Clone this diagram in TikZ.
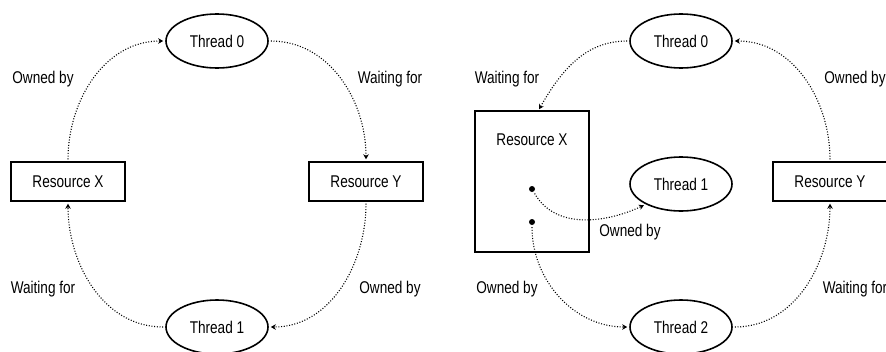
\documentclass[tikz,border=0pt]{standalone}
\usepackage{fontspec}
\setmainfont{Liberation Sans}[FakeStretch=0.8]
\usetikzlibrary{arrows.meta,shapes.geometric}
\begin{document}
\begin{tikzpicture}[x=1pt,y=-1pt,
  every node/.style={font=\fontsize{17}{20}\selectfont},
  thr/.style={draw,ellipse,line width=1.6pt,minimum width=102pt,minimum height=54pt,inner sep=0pt},
  res/.style={draw,rectangle,line width=1.4pt,minimum width=114pt,minimum height=39pt,inner sep=0pt},
  lab/.style={inner sep=0pt},
  dot/.style={circle,fill,inner sep=0pt,minimum size=6pt},
  conn/.style={line width=1.1pt,dash pattern=on 1pt off 1.7pt,shorten >=2pt,shorten <=2pt,
    -{Stealth[length=5pt,width=5.5pt,inset=1.5pt]}}]
\useasboundingbox (0,0) rectangle (886,351);
% left diagram
\node[thr] (t0a) at (217,41) {Thread 0};
\node[thr] (t1a) at (217,327) {Thread 1};
\node[res] (rxa) at (68,181.5) {Resource X};
\node[res] (rya) at (366,181.5) {Resource Y};
\node[lab] (la1) at (43,79) {Owned by};
\node[lab] (la2) at (390,79) {Waiting for};
\node[lab] (la3) at (43,289) {Waiting for};
\node[lab] (la4) at (390,289) {Owned by};
\draw[conn] (rxa.north) to[out=90,in=180] (t0a.west);
\draw[conn] (t0a.east) to[out=0,in=90] (rya.north);
\draw[conn] (rya.south) to[out=-90,in=0] (t1a.east);
\draw[conn] (t1a.west) to[out=180,in=-90] (rxa.south);
% right diagram
\node[thr] (t0b) at (681,41) {Thread 0};
\node[thr] (t1b) at (681,184) {Thread 1};
\node[thr] (t2b) at (681,327) {Thread 2};
\node[res,minimum height=141pt] (rxb) at (532,181.5) {};
\node[lab] (rxbl) at (532,140) {Resource X};
\node[dot] (d1) at (532,189) {};
\node[dot] (d2) at (532,222) {};
\node[res] (ryb) at (830,181.5) {Resource Y};
\coordinate (rxbt) at (538,111);
\node[lab] (lb1) at (507,79) {Waiting for};
\node[lab] (lb2) at (855,79) {Owned by};
\node[lab] (lb3) at (507,289) {Owned by};
\node[lab] (lb4) at (855,289) {Waiting for};
\node[lab] (lb5) at (630,232) {Owned by};
\draw[conn] (t0b.west) to[out=180,in=60] (rxbt);
\draw[conn] (ryb.north) to[out=90,in=0] (t0b.east);
\draw[conn] (d1) to[out=-60,in=205] (t1b.210);
\draw[conn] (d2) to[out=-90,in=180] (t2b.west);
\draw[conn] (t2b.east) to[out=0,in=-90] (ryb.south);
\end{tikzpicture}
\end{document}
